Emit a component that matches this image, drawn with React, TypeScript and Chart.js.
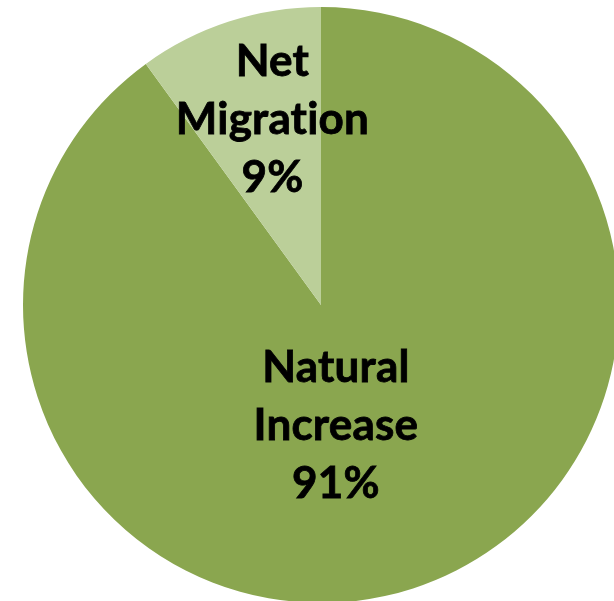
import React, { useEffect, useRef } from "react";
import { Chart, registerables } from "chart.js";

Chart.register(...registerables);

const categories = ["Natural Increase", "Net Migration"];
const sliceValues = [90, 10];
const percentLabels = ["91%", "9%"];
const labelLines = [["Natural", "Increase"], ["Net", "Migration"]];
const colors = ["#8AA64F", "#BBCF99"];
// label anchor as fraction of radius (dx, dy) from pie centre
const labelOffsets = [[0.05, 0.405], [-0.163, -0.62]];

const labelPlugin = {
  id: "sliceLabels",
  afterDatasetsDraw(chart: any) {
    const ctx = chart.ctx;
    const meta = chart.getDatasetMeta(0);
    ctx.save();
    ctx.font = "bold 44px Lato, 'Open Sans', sans-serif";
    try {
      (ctx as any).letterSpacing = "0.2px";
    } catch (e) {}
    ctx.fillStyle = "#000";
    ctx.strokeStyle = "#000";
    ctx.lineWidth = 0.8;
    ctx.textAlign = "center";
    ctx.textBaseline = "middle";
    meta.data.forEach((arc: any, i: number) => {
      const { x, y, outerRadius } = arc.getProps(["x", "y", "outerRadius"], true);
      const lines = [...labelLines[i], percentLabels[i]];
      const cx = x + labelOffsets[i][0] * outerRadius;
      const cy = y + labelOffsets[i][1] * outerRadius;
      const lh = 58;
      lines.forEach((t, k) => {
        const ty = cy + (k - (lines.length - 1) / 2) * lh;
        ctx.fillText(t, cx, ty);
        ctx.strokeText(t, cx, ty);
      });
    });
    ctx.restore();
  },
};

export default function App() {
  const ref = useRef<HTMLCanvasElement>(null);
  useEffect(() => {
    const chart = new Chart(ref.current!, {
      type: "pie",
      data: {
        labels: categories,
        datasets: [
          {
            data: sliceValues,
            backgroundColor: colors,
            borderWidth: 0,
          },
        ],
      },
      options: {
        animation: false,
        responsive: false,
        maintainAspectRatio: false,
        layout: { padding: 0 },
        plugins: { legend: { display: false }, tooltip: { enabled: false } },
      },
      plugins: [labelPlugin],
    });
    return () => chart.destroy();
  }, []);
  return (
    <div style={{ position: "absolute", left: 0, top: 0, width: 614, height: 601, overflow: "hidden", background: "#fff" }}>
      <canvas ref={ref} width={596} height={596} style={{ position: "absolute", left: 23, top: 7, width: 596, height: 596 }} />
    </div>
  );
}
